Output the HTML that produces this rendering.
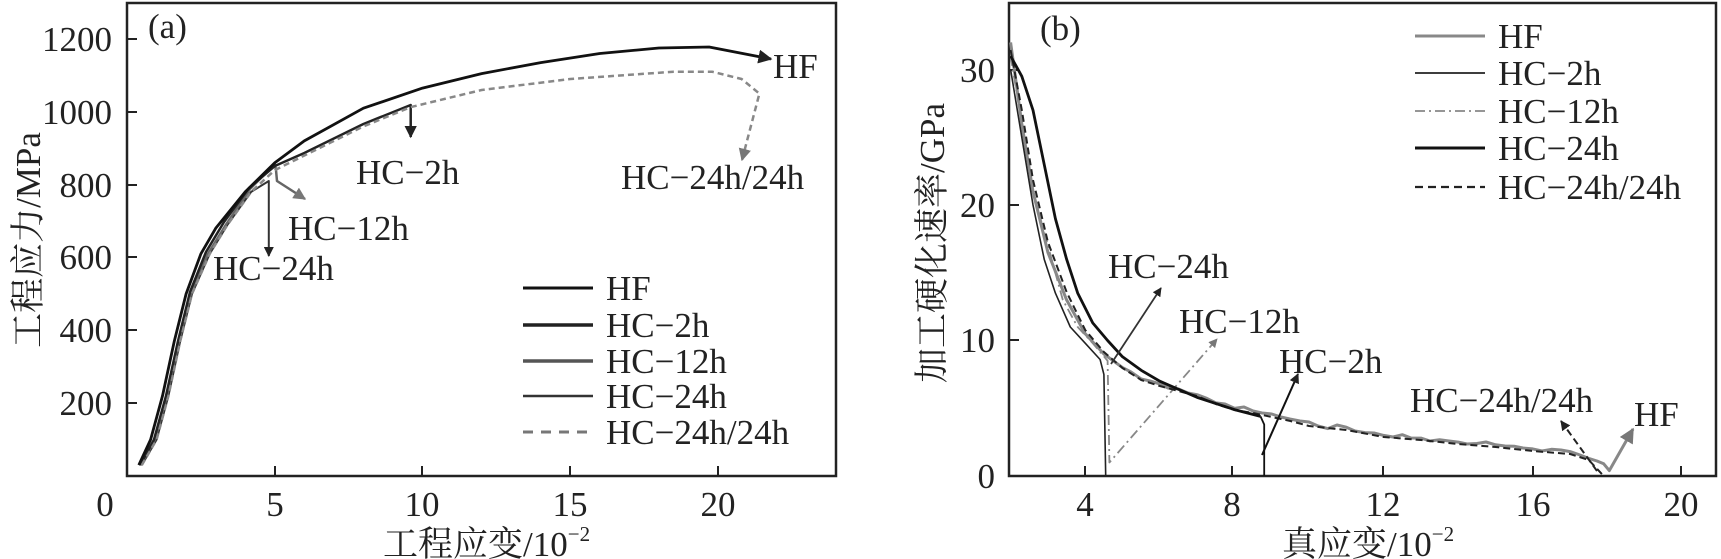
<!DOCTYPE html>
<html><head><meta charset="utf-8"><style>
body{margin:0;background:#fff;}
svg{display:block;}
text{font-family:"Liberation Serif","Noto Serif CJK SC","Noto Sans CJK SC",serif;font-size:35px;fill:#222;}
</style></head><body>
<svg width="1721" height="559" viewBox="0 0 1721 559" xmlns="http://www.w3.org/2000/svg">
<defs>
<marker id="ab" viewBox="0 0 10 10" refX="9" refY="5" markerWidth="5" markerHeight="5" orient="auto"><path d="M0,0L10,5L0,10z" fill="#222"/></marker>
<marker id="ag" viewBox="0 0 10 10" refX="9" refY="5" markerWidth="5" markerHeight="5" orient="auto"><path d="M0,0L10,5L0,10z" fill="#777"/></marker>
</defs>
<rect x="127" y="3" width="709" height="473" fill="none" stroke="#222" stroke-width="2.5"/>
<g stroke="#222" stroke-width="2">
<line x1="127" y1="39" x2="137" y2="39"/><line x1="127" y1="112" x2="137" y2="112"/><line x1="127" y1="185" x2="137" y2="185"/><line x1="127" y1="257" x2="137" y2="257"/><line x1="127" y1="330" x2="137" y2="330"/><line x1="127" y1="403" x2="137" y2="403"/>
<line x1="275" y1="476" x2="275" y2="466"/><line x1="422" y1="476" x2="422" y2="466"/><line x1="570" y1="476" x2="570" y2="466"/><line x1="718" y1="476" x2="718" y2="466"/>
</g>
<g text-anchor="end">
<text x="112" y="51">1200</text><text x="112" y="124">1000</text><text x="112" y="197">800</text><text x="112" y="269">600</text><text x="112" y="342">400</text><text x="112" y="415">200</text>
</g>
<g text-anchor="middle">
<text x="105" y="516">0</text><text x="275" y="516">5</text><text x="422" y="516">10</text><text x="570" y="516">15</text><text x="718" y="516">20</text>
</g>
<text x="383" y="556">工程应变/10<tspan font-size="21" dy="-15">−2</tspan></text>
<text transform="translate(40,240) rotate(-90)" text-anchor="middle">工程应力/MPa</text>
<text x="148" y="38">(a)</text>
<g fill="none" stroke-linejoin="round">
<path d="M141.8,465.1 L156.6,439.6 L168.4,395.9 L180.2,341.2 L192,293.9 L209.7,253.8 L227.5,224.7 L251.1,191.9 L268.8,181 L268.8,256" stroke="#333" stroke-width="2" marker-end="url(#ab)"/>
<path d="M141,465.1 L155,439.6 L167,395.9 L179,341.2 L191,293.9 L208,253.8 L226,224.7 L250,189 L274.8,164 L276,170 L277,181 L305,199" stroke="#666" stroke-width="2.5" marker-end="url(#ag)"/>
<path d="M140,465.1 L154,439.6 L166,395.9 L178,341.2 L190,292 L206,252 L224,222 L249,188 L274.8,166 L304.3,153 L363.4,124 L410.7,105 L410.7,137" stroke="#222" stroke-width="2.5" marker-end="url(#ab)"/>
<path d="M141.8,465.1 L156.6,439.6 L168.4,395.9 L180.2,341.2 L192,293.9 L209.7,253.8 L227.5,224.7 L251.1,191.9 L274.8,170.1 L304.3,155.5 L363.4,126.4 L410.7,107.1 L481.6,90 L570.3,79 L673.7,71.7 L712.1,71.7 L741.6,79 L759.4,93.6 L742,160" stroke="#888" stroke-width="2.5" stroke-dasharray="6,4" marker-end="url(#ag)"/>
<path d="M138.8,465.1 L150.6,439.6 L162.5,395.9 L174.3,341.2 L186.1,293.9 L200.9,253.8 L215.7,228.3 L245.2,191.9 L274.8,162.8 L304.3,140.9 L363.4,108.2 L422.5,88.1 L481.6,73.6 L540.7,62.6 L599.8,53.5 L658.9,48 L709.1,47 L771,59" stroke="#111" stroke-width="2.8" marker-end="url(#ab)"/>
</g>
<text x="773" y="78">HF</text>
<text x="356" y="184">HC−2h</text>
<text x="621" y="189">HC−24h/24h</text>
<text x="288" y="240">HC−12h</text>
<text x="213" y="280">HC−24h</text>
<g fill="none">
<line x1="523" y1="288" x2="593" y2="288" stroke="#111" stroke-width="3"/>
<line x1="523" y1="325" x2="593" y2="325" stroke="#222" stroke-width="3.5"/>
<line x1="523" y1="361" x2="593" y2="361" stroke="#555" stroke-width="3.5"/>
<line x1="523" y1="396" x2="593" y2="396" stroke="#333" stroke-width="2.5"/>
<line x1="523" y1="432" x2="593" y2="432" stroke="#777" stroke-width="3" stroke-dasharray="10,8"/>
</g>
<text x="606" y="300">HF</text><text x="606" y="337">HC−2h</text><text x="606" y="373">HC−12h</text><text x="606" y="408">HC−24h</text><text x="606" y="444">HC−24h/24h</text>

<rect x="1009" y="3" width="707" height="473" fill="none" stroke="#222" stroke-width="2.5"/>
<g stroke="#222" stroke-width="2">
<line x1="1009" y1="70" x2="1019" y2="70"/><line x1="1009" y1="205" x2="1019" y2="205"/><line x1="1009" y1="340" x2="1019" y2="340"/>
<line x1="1085" y1="476" x2="1085" y2="466"/><line x1="1232" y1="476" x2="1232" y2="466"/><line x1="1383" y1="476" x2="1383" y2="466"/><line x1="1533" y1="476" x2="1533" y2="466"/><line x1="1681" y1="476" x2="1681" y2="466"/>
</g>
<g text-anchor="end">
<text x="995" y="82">30</text><text x="995" y="217">20</text><text x="995" y="352">10</text><text x="995" y="488">0</text>
</g>
<g text-anchor="middle">
<text x="1085" y="516">4</text><text x="1232" y="516">8</text><text x="1383" y="516">12</text><text x="1533" y="516">16</text><text x="1681" y="516">20</text>
</g>
<text x="1282" y="556">真应变/10<tspan font-size="21" dy="-15">−2</tspan></text>
<text transform="translate(944,243) rotate(-90)" text-anchor="middle">加工硬化速率/GPa</text>
<text x="1040" y="40">(b)</text>
<g fill="none" stroke-linejoin="round">
<path d="M1010.6,42.4 L1021.8,123.7 L1033,191.5 L1047.9,252.4 L1066.6,299.9 L1085.2,333.7 L1103.9,354 L1122.5,367.6 L1131,372 L1141.2,379 L1150,381 L1159.8,383.9 L1168,388 L1178.5,389 L1188,393 L1197.1,394.7 L1206,398 L1215.8,402.8 L1225,404 L1234.4,408.3 L1244,407 L1253.1,411 L1262,413 L1271.7,414 L1281,417 L1290.4,419.1 L1300,421 L1309,422 L1318,426 L1327.7,428.6 L1337,425 L1346.3,427.2 L1355,431 L1365,432.6 L1374,433 L1383.6,435.4 L1393,437 L1402.3,434.7 L1411,438 L1420.9,438.1 L1430,441 L1439.6,439.8 L1449,441 L1458.2,442.1 L1467,444 L1476.9,443.5 L1486,442 L1495.5,444.8 L1505,446 L1514.2,446.2 L1523,448 L1532.8,448.9 L1542,451 L1551.5,449.3 L1561,450 L1570.1,451.6 L1580,455 L1588.8,458.4 L1597,461 L1603.7,463.8 L1609.3,470.6 L1633,429" stroke="#888" stroke-width="3" marker-end="url(#ag)"/>
<path d="M1010.6,56 L1021.8,123.7 L1033,191.5 L1047.9,245.6 L1062.8,299.9 L1077.7,327 L1092.7,343.2 L1107.6,360.8 L1109.4,462.5 L1217,339" stroke="#888" stroke-width="1.8" stroke-dasharray="10,4,2,4" marker-end="url(#ag)"/>
<path d="M1010.6,69.5 L1021.8,137.3 L1033,205 L1044.2,259.2 L1055.4,293.1 L1070.3,327 L1085.2,343.2 L1100.1,359.5 L1103.9,374.4 L1105.7,476" stroke="#222" stroke-width="1.6"/>
<path d="M1010.6,50 L1021.8,110 L1033,180 L1047.9,242 L1066.6,292 L1085.2,330 L1103.9,352 L1122.5,368 L1141.2,380 L1159.8,386 L1178.5,391 L1197.1,396 L1215.8,404 L1234.4,410 L1253.1,413 L1271.7,417 L1290.4,421 L1309,426 L1346.3,430 L1383.6,437 L1420.9,440 L1458.2,444 L1495.5,447 L1532.8,451 L1570.1,454 L1588.8,460 L1603.7,476" stroke="#222" stroke-width="2" stroke-dasharray="7,4"/>
<path d="M1010.6,56 L1021.8,76.3 L1033,110.2 L1044.2,164.4 L1055.4,218.6 L1066.6,259.2 L1077.7,293.1 L1092.7,322.9 L1107.6,340.5 L1122.5,356.8 L1141.2,370.3 L1159.8,381.2 L1197.1,397.4 L1234.4,409.6 L1260.5,416.4" stroke="#111" stroke-width="2.8"/>
<path d="M1260.5,416.4 L1264.2,424.5 L1264.2,476" stroke="#111" stroke-width="1.8"/>
<line x1="1111" y1="364" x2="1161" y2="288" stroke="#333" stroke-width="1.8" marker-end="url(#ab)"/>
<line x1="1262" y1="455" x2="1298" y2="374" stroke="#111" stroke-width="2" marker-end="url(#ab)"/>
<line x1="1597" y1="471" x2="1561" y2="421" stroke="#222" stroke-width="2" stroke-dasharray="7,4" marker-end="url(#ab)"/>
</g>
<text x="1108" y="278">HC−24h</text>
<text x="1179" y="333">HC−12h</text>
<text x="1279" y="373">HC−2h</text>
<text x="1410" y="412">HC−24h/24h</text>
<text x="1634" y="426">HF</text>
<g fill="none">
<line x1="1415" y1="36" x2="1485" y2="36" stroke="#888" stroke-width="3"/>
<line x1="1415" y1="73" x2="1485" y2="73" stroke="#222" stroke-width="1.8"/>
<line x1="1415" y1="111" x2="1485" y2="111" stroke="#888" stroke-width="1.8" stroke-dasharray="10,4,2,4"/>
<line x1="1415" y1="148" x2="1485" y2="148" stroke="#111" stroke-width="3"/>
<line x1="1415" y1="187" x2="1485" y2="187" stroke="#222" stroke-width="2.2" stroke-dasharray="8,5"/>
</g>
<text x="1498" y="48">HF</text><text x="1498" y="85">HC−2h</text><text x="1498" y="123">HC−12h</text><text x="1498" y="160">HC−24h</text><text x="1498" y="199">HC−24h/24h</text>
</svg>
</body></html>
